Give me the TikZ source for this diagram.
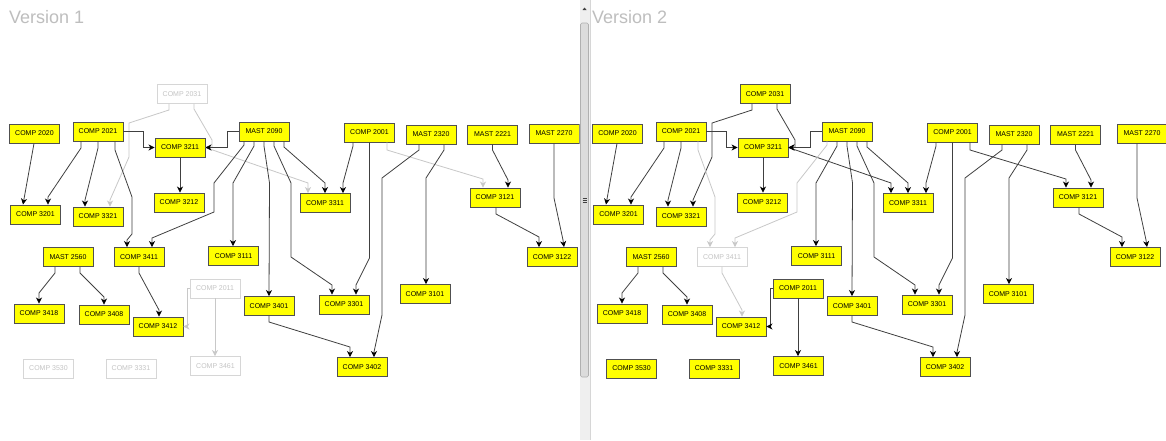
\documentclass[tikz,border=0pt]{standalone}
\usepackage{fontspec}
\setmainfont{Liberation Sans}
\usetikzlibrary{arrows.meta}
\definecolor{nodeyellow}{HTML}{FFFF00}
\definecolor{nodeborder}{HTML}{505050}
\definecolor{fadeborder}{HTML}{D6D6D6}
\definecolor{fadetext}{HTML}{C4C4C4}
\definecolor{edgecol}{HTML}{404040}
\definecolor{fadeedge}{HTML}{C8C8C8}
\definecolor{titlegray}{HTML}{BEBEBE}
\definecolor{trackcol}{HTML}{EFEFEF}
\definecolor{thumbcol}{HTML}{DCDCDC}
\definecolor{thumbborder}{HTML}{B0B0B0}
\tikzset{
  course/.style={draw=nodeborder, line width=0.9pt, fill=nodeyellow, minimum width=50pt,
    minimum height=19pt, inner sep=0pt, font=\fontsize{7}{8}\selectfont, text=black},
  faded/.style={draw=fadeborder, fill=white, text=fadetext},
  link/.style={draw=edgecol, line width=0.8pt,
    -{Stealth[length=6pt,width=6pt,inset=1.8pt,color=black]}},
  flink/.style={draw=fadeedge, line width=0.8pt,
    -{Stealth[length=6pt,width=6pt,inset=1.8pt,color=fadeedge]}},
  paneltitle/.style={anchor=base west, inner sep=0pt, text=titlegray,
    font=\fontsize{18}{20}\selectfont},
  fadeA/.style={}, fadeB/.style={},
  linkA/.style={link}, linkB/.style={link}
}
% #1 prefix, #2 title, #3 x of MAST 2270, #4 start offset of its edge
\newcommand\coursepanel[4]{%
  \node[paneltitle] (#1title) at (9,23) {#2};
  \node[course,fadeA] (#1c2031) at (182,94) {COMP 2031};
  \node[course] (#1c2020) at (34.5,133.5) {COMP 2020};
  \node[course] (#1c2021) at (98,131.5) {COMP 2021};
  \node[course] (#1c3211) at (180,147.5) {COMP 3211};
  \node[course] (#1m2090) at (264,131.5) {MAST 2090};
  \node[course] (#1c2001) at (369.5,132.5) {COMP 2001};
  \node[course] (#1m2320) at (431,134.5) {MAST 2320};
  \node[course] (#1m2221) at (492.5,134.5) {MAST 2221};
  \node[course] (#1m2270) at (#3,133.5) {MAST 2270};
  \node[course] (#1c3201) at (35.5,214.5) {COMP 3201};
  \node[course] (#1c3321) at (98,216.5) {COMP 3321};
  \node[course] (#1c3212) at (179,202.5) {COMP 3212};
  \node[course] (#1c3311) at (325,203) {COMP 3311};
  \node[course] (#1c3121) at (495,197.5) {COMP 3121};
  \node[course] (#1m2560) at (68,257) {MAST 2560};
  \node[course,fadeB] (#1c3411) at (139,257) {COMP 3411};
  \node[course] (#1c3111) at (233.5,256) {COMP 3111};
  \node[course,fadeA] (#1c2011) at (215,288.5) {COMP 2011};
  \node[course] (#1c3401) at (269,306) {COMP 3401};
  \node[course] (#1c3418) at (39,313.5) {COMP 3418};
  \node[course] (#1c3408) at (104,314.5) {COMP 3408};
  \node[course] (#1c3412) at (158,326.5) {COMP 3412};
  \node[course,fadeA] (#1c3530) at (48.5,368.5) {COMP 3530};
  \node[course,fadeA] (#1c3331) at (131,368.5) {COMP 3331};
  \node[course,fadeA] (#1c3461) at (215.5,366) {COMP 3461};
  \node[course] (#1c3301) at (344,304.5) {COMP 3301};
  \node[course] (#1c3101) at (425,294) {COMP 3101};
  \node[course] (#1c3402) at (362,367) {COMP 3402};
  \node[course] (#1c3122) at (552,257) {COMP 3122};
  % connectors that change between versions
  \draw[linkA] ([xshift=-13pt]#1c2031.south) -- (169,110) -- (129,123) -- (129,157) -- (110,200) -- ([xshift=12pt]#1c3321.north);
  \draw[linkA] ([xshift=12pt]#1c2031.south) -- (194,109) -- (212,140) -- (212,147.5) -- (#1c3211.east);
  \draw[linkA] (#1c3211.east) -- (308,183) -- ([xshift=-17pt]#1c3311.north);
  \draw[linkA] ([xshift=17.5pt]#1c2001.south) -- (387,150) -- (483,179) -- ([xshift=-12pt]#1c3121.north);
  \draw[linkA] (#1c2011.west) -- (187.5,288.5) -- (187.5,326.5) -- (#1c3412.east);
  \draw[linkA] (#1c2011.south) -- (#1c2011.south |- #1c3461.north);
  \draw[linkB] ([xshift=17pt]#1c2021.south) -- (115,150) -- (132,197) -- (132,234) -- (127,240) -- ([xshift=-12pt]#1c3411.north);
  \draw[linkB] ([xshift=-20pt]#1m2090.south) -- (244,145) -- (214,183) -- (214,212) -- (152,238) -- ([xshift=13pt]#1c3411.north);
  \draw[linkB] (#1c3411.south) -- (139,273) -- (159,310) -- ([xshift=1pt]#1c3412.north);
  % connectors common to both versions
  \draw[link] ([xshift=-0.5pt]#1c2020.south) -- ([xshift=-12.5pt]#1c3201.north);
  \draw[link] ([xshift=-17pt]#1c2021.south) -- (81,148) -- (48,197) -- ([xshift=12.5pt]#1c3201.north);
  \draw[link] (#1c2021.south) -- (98,148) -- (85,200) -- ([xshift=-13pt]#1c3321.north);
  \draw[link] (#1c2021.east) -- (143,131.5) -- (143,147.5) -- (#1c3211.west);
  \draw[link] (#1m2090.west) -- (227,131.5) -- (227,147.5) -- (#1c3211.east);
  \draw[link] (#1c3211.south) -- (#1c3211.south |- #1c3212.north);
  \draw[link] ([xshift=-10pt]#1m2090.south) -- (254,146) -- (233,183) -- ([xshift=-0.5pt]#1c3111.north);
  \draw[link] (#1m2090.south) -- (264,146) -- (269.5,183) -- (#1c3401.north);
  \draw[link] ([xshift=10pt]#1m2090.south) -- (274,146) -- (291,183) -- (291,257) -- (332,285) -- ([xshift=-12pt]#1c3301.north);
  \draw[link] ([xshift=20pt]#1m2090.south) -- (284,147) -- (325,183) -- (#1c3311.north);
  \draw[link] ([xshift=-16.5pt]#1c2001.south) -- (353,146) -- (343,183) -- ([xshift=18pt]#1c3311.north);
  \draw[link] (#1c2001.south) -- (369.5,258) -- (356,285) -- ([xshift=12pt]#1c3301.north);
  \draw[link] ([xshift=-12pt]#1m2320.south) -- (419,150) -- (382,178) -- (382,315) -- (374,352) -- ([xshift=12pt]#1c3402.north);
  \draw[link] ([xshift=13pt]#1m2320.south) -- (444,150) -- (426,178) -- ([xshift=1pt]#1c3101.north);
  \draw[link] (#1m2221.south) -- (492.5,150) -- (508,180) -- ([xshift=13pt]#1c3121.north);
  \draw[link] ([xshift=#4]#1m2270.south) -- (554,198) -- (563,240) -- ([xshift=12pt]#1c3122.north);
  \draw[link] ([xshift=1pt]#1c3121.south) -- (496,214) -- (539,237) -- ([xshift=-13pt]#1c3122.north);
  \draw[link] ([xshift=-13pt]#1m2560.south) -- (55,273) -- (39,293) -- (#1c3418.north);
  \draw[link] ([xshift=12pt]#1m2560.south) -- (80,273) -- (104,297) -- (#1c3408.north);
  \draw[link] (#1c3401.south) -- (269,322) -- (350,347) -- ([xshift=-12pt]#1c3402.north);
}
\begin{document}
\begin{tikzpicture}[x=1pt,y=-1pt]
  \fill[white] (0,0) rectangle (1166,440);
  \useasboundingbox (0,0) rectangle (1166,440);
  % Version 1
  \begin{scope}[fadeA/.style={faded}, linkA/.style={flink}]
    \clip (0,0) rectangle (579.5,440);
    \coursepanel{A}{Version 1}{554}{0pt}
  \end{scope}
  % Version 2
  \begin{scope}[xshift=583pt, fadeB/.style={faded}, linkB/.style={flink}]
    \clip (7,0) rectangle (583,440);
    \coursepanel{B}{Version 2}{559}{-5pt}
  \end{scope}
  % scrollbar between the panels
  \fill[trackcol] (579.5,0) rectangle (590.5,440);
  \draw[fadeborder, line width=0.6pt] (590.5,0) -- (590.5,440);
  \fill[edgecol] (582.5,10) -- (586.5,10) -- (584.5,7.5) -- cycle;
  \draw[thumbborder, fill=thumbcol, line width=0.6pt, rounded corners=1.5pt] (580.5,23) rectangle (588.5,377);
  \draw[edgecol, line width=0.5pt] (582.5,198.5) -- (586.5,198.5) (582.5,200.5) -- (586.5,200.5) (582.5,202.5) -- (586.5,202.5);
\end{tikzpicture}
\end{document}
